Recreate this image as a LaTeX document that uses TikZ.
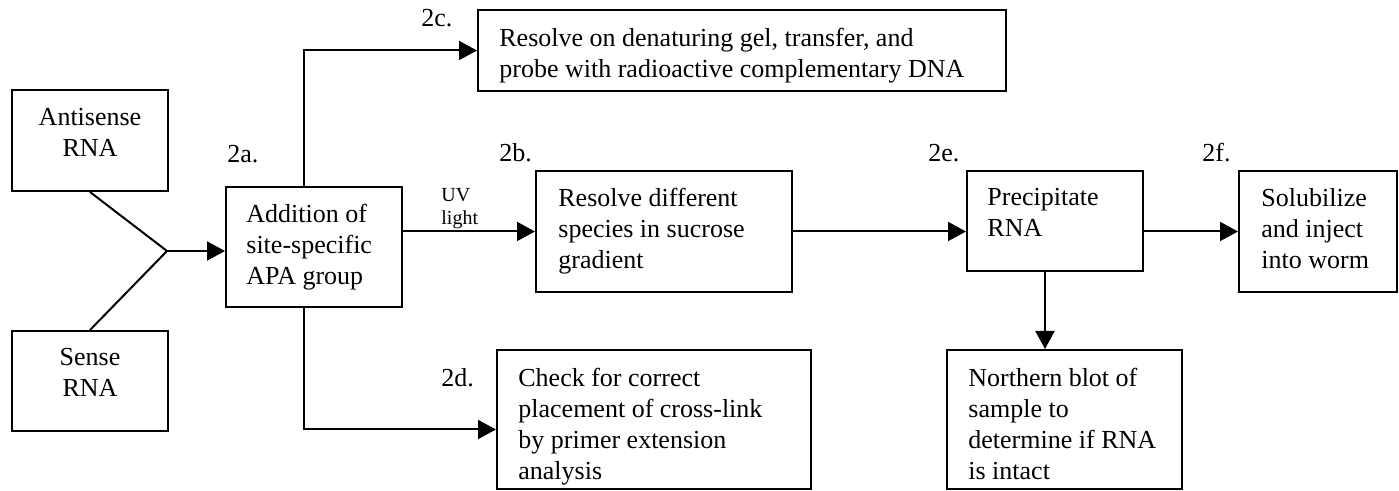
\documentclass[tikz,border=0pt]{standalone}
\usepackage{fontspec}
\setmainfont{Liberation Serif}
\usetikzlibrary{arrows.meta,fit}
\begin{document}
\begin{tikzpicture}[x=0.5pt,y=-0.5pt,
  box/.style={draw, line width=1pt, inner sep=0pt},
  txt/.style={inner sep=0pt, anchor=north west, align=left, font=\fontsize{13}{15.4}\selectfont},
  ctxt/.style={inner sep=0pt, anchor=north, align=center, font=\fontsize{13}{15.4}\selectfont},
  lab/.style={inner sep=0pt, anchor=west, font=\fontsize{13}{15.4}\selectfont},
  small/.style={inner sep=0pt, anchor=north west, align=left, font=\fontsize{10}{11.5}\selectfont},
  conn/.style={line width=1pt, -{Triangle[length=9pt,width=9.5pt]}},
  ln/.style={line width=1pt}]
\useasboundingbox (0,0) rectangle (1399,491);
% boxes
\node[box, fit={(12,90) (168,191)}] (anti) {};
\node[box, fit={(12,331) (168,431)}] (sense) {};
\node[box, fit={(226,187) (402,307)}] (add) {};
\node[box, fit={(478,10) (1006,91)}] (gel) {};
\node[box, fit={(536,171) (792,292)}] (sucrose) {};
\node[box, fit={(497,350) (811,489)}] (check) {};
\node[box, fit={(967,171) (1143,271)}] (precip) {};
\node[box, fit={(1239,171) (1397,292)}] (solub) {};
\node[box, fit={(947,350) (1182,489)}] (north) {};
% texts
\node[ctxt] (tanti) at (90,108) {Antisense\\RNA};
\node[ctxt] (tsense) at (90,348) {Sense\\RNA};
\node[txt] (tadd) at (246,204) {Addition of\\site-specific\\APA group};
\node[txt] (tgel) at (499,28) {Resolve on denaturing gel, transfer, and\\probe with radioactive complementary DNA};
\node[txt] (tsuc) at (558,188) {Resolve different\\species in sucrose\\gradient};
\node[txt] (tpre) at (987,188) {Precipitate\\RNA};
\node[txt] (tsol) at (1261,188) {Solubilize\\and inject\\into worm};
\node[txt] (tchk) at (518,368) {Check for correct\\placement of cross-link\\by primer extension\\analysis};
\node[txt] (tnor) at (968,368) {Northern blot of\\sample to\\determine if RNA\\is intact};
% step labels
\node[lab] (l2a) at (227,154) {2a.};
\node[lab] (l2b) at (499,153) {2b.};
\node[lab] (l2c) at (421,18) {2c.};
\node[lab] (l2d) at (441,378) {2d.};
\node[lab] (l2e) at (928,153) {2e.};
\node[lab] (l2f) at (1202,153) {2f.};
\node[small] (uv) at (441,188) {UV\\light};
% connectors
\coordinate (fork) at (167,251);
\draw[ln] (anti.south) -- (fork);
\draw[ln] (sense.north) -- (fork);
\draw[conn] (fork) -- (add.west |- fork);
\draw[conn] (add.east |- sucrose.west) -- (sucrose.west);
\draw[conn] (sucrose.east) -- (sucrose.east -| precip.west);
\draw[conn] (precip.east |- solub.west) -- (solub.west);
\draw[conn] ([xshift=-5pt]precip.south) -- ([xshift=-5pt]precip.south |- north.north);
\draw[conn] ([xshift=-5pt]add.north) |- (gel.west);
\draw[conn] ([xshift=-5pt]add.south) |- ([yshift=-5pt]check.west);
\end{tikzpicture}
\end{document}
